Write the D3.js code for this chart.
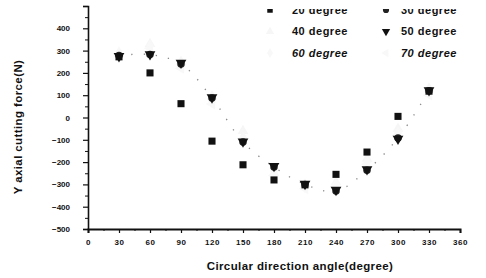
<!DOCTYPE html>
<html>
<head>
<meta charset="utf-8">
<script src="https://cdn.jsdelivr.net/npm/d3@7"></script>
<style>
  body { margin: 0; background: #fff; }
  text { font-family: "Liberation Sans", Arial, sans-serif; font-weight: bold; fill: #111; }
</style>
</head>
<body>
<script>
var angles = [30, 60, 90, 120, 150, 180, 210, 240, 270, 300, 330];
var deg20 = [272, 200, 62, -106, -212, -280, -302, -255, -155, 5, 118];
var deg30 = [278, 282, 240, 88, -110, -222, -300, -330, -236, -92, 120];
var deg40 = [285, 330, 250, 95, -60, -250, -300, -290, -185, -50, 130];
var deg50 = [275, 283, 245, 90, -108, -218, -298, -325, -232, -96, 122];
var deg60 = [290, 320, 230, 70, -90, -240, -310, -300, -200, -70, 110];
var deg70 = [280, 310, 220, 60, -100, -260, -320, -310, -210, -80, 100];
var xTicks = [0, 30, 60, 90, 120, 150, 180, 210, 240, 270, 300, 330, 360];
var yTicks = [500, 400, 300, 200, 100, 0, -100, -200, -300, -400, -500];

var series = [
  { name: "20 degree", values: deg20, symbol: d3.symbolSquare, color: "#111", italic: false },
  { name: "30 degree", values: deg30, symbol: d3.symbolCircle, color: "#222", italic: false },
  { name: "40 degree", values: deg40, symbol: d3.symbolTriangle, color: "#f6f6f6", italic: false },
  { name: "50 degree", values: deg50, symbol: d3.symbolTriangle, color: "#111", italic: false, flip: true },
  { name: "60 degree", values: deg60, symbol: d3.symbolDiamond, color: "#f8f8f8", italic: true },
  { name: "70 degree", values: deg70, symbol: d3.symbolTriangle, color: "#f8f8f8", italic: true, left: true }
];

var svg = d3.select("body").append("svg")
  .attr("width", 486)
  .attr("height", 278);

svg.append("defs").append("clipPath").attr("id", "cut")
  .append("rect").attr("x", -200).attr("y", 9).attr("width", 900).attr("height", 300);

var x = d3.scaleLinear().domain([0, 360]).range([88, 460]);
var y = d3.scaleLinear().domain([-500, 500]).range([229, 6]);

// y axis: line and ticks
var yAxis = svg.append("g")
  .attr("transform", "translate(88,0)")
  .call(d3.axisLeft(y).tickValues(yTicks).tickSize(5).tickFormat(""));
yAxis.select(".domain").attr("stroke", "#111").attr("stroke-width", 1.6);
yAxis.selectAll(".tick line").attr("stroke", "#111").attr("stroke-width", 1.2);
svg.append("g")
  .attr("transform", "translate(88,0)")
  .call(d3.axisLeft(y).tickValues(d3.range(-450, 500, 100)).tickSize(3).tickFormat(""))
  .call(function(g) { g.select(".domain").remove(); })
  .selectAll("line").attr("stroke", "#111");
// y axis: labels (top one cut like the scan)
var yLabels = svg.append("g")
  .attr("clip-path", "url(#cut)")
  .append("g")
  .attr("transform", "translate(88,0)")
  .call(d3.axisLeft(y).tickValues(yTicks).tickSize(5).tickPadding(13));
yLabels.select(".domain").remove();
yLabels.selectAll(".tick line").remove();
yLabels.selectAll("text").style("font-size", "8px").style("font-family", "Liberation Sans, Arial").style("font-weight", "bold");

// x axis
var xAxis = svg.append("g")
  .attr("transform", "translate(0,229)")
  .call(d3.axisBottom(x).tickValues(xTicks).tickSize(4).tickPadding(6));
xAxis.select(".domain").attr("stroke", "#111").attr("stroke-width", 2);
xAxis.selectAll(".tick line").attr("stroke", "#111").attr("stroke-width", 1.2);
xAxis.selectAll("text").style("font-size", "8px").style("font-family", "Liberation Sans, Arial").style("font-weight", "bold").style("letter-spacing", "0.6px");
svg.append("g")
  .attr("transform", "translate(0,229)")
  .call(d3.axisBottom(x).tickValues(d3.range(15, 360, 30)).tickSize(2).tickFormat(""))
  .call(function(g) { g.select(".domain").remove(); })
  .selectAll("line").attr("stroke", "#111");

// axis titles
svg.append("text")
  .attr("x", 300).attr("y", 270)
  .attr("text-anchor", "middle")
  .style("font-size", "11.5px").style("letter-spacing", "0.4px")
  .text("Circular direction angle(degree)");
svg.append("text")
  .attr("transform", "translate(22,127) rotate(-90)")
  .attr("text-anchor", "middle")
  .style("font-size", "11.5px").style("letter-spacing", "0.4px")
  .text("Y axial cutting force(N)");

// dotted trend for 30 degree
var line = d3.line()
  .x(function(d, i) { return x(angles[i]); })
  .y(function(d) { return y(d); })
  .curve(d3.curveCatmullRom);
svg.append("path")
  .datum(deg30)
  .attr("d", line)
  .attr("fill", "none")
  .attr("stroke", "#888")
  .attr("stroke-width", 1.3)
  .attr("stroke-dasharray", "1.3,11");

function symbolTransform(s, px, py) {
  var t = "translate(" + px + "," + py + ")";
  if (s.flip) t += " rotate(180)";
  if (s.left) t += " rotate(-90)";
  return t;
}

// points, light ones first
var order = [2, 4, 5, 1, 3, 0];
order.forEach(function(k) {
  var s = series[k];
  svg.append("g").selectAll("path")
    .data(s.values)
    .enter()
    .append("path")
    .attr("d", d3.symbol().type(s.symbol).size(s.symbol === d3.symbolCircle ? 44 : 50))
    .attr("transform", function(d, i) { return symbolTransform(s, x(angles[i]), y(d)); })
    .attr("fill", s.color);
});

// legend
var legend = svg.append("g").attr("clip-path", "url(#cut)");
series.forEach(function(s, i) {
  var col = i % 2, row = Math.floor(i / 2);
  var lx = col === 0 ? 270 : 386;
  var ly = 10 + row * 21.5;
  legend.append("path")
    .attr("d", d3.symbol().type(s.symbol).size(30))
    .attr("transform", symbolTransform(s, lx, ly))
    .attr("fill", s.color);
  legend.append("text")
    .attr("x", lx + (col === 0 ? 22 : 15))
    .attr("y", ly)
    .attr("dy", "0.35em")
    .style("font-size", "11px")
    .style("letter-spacing", "0.5px")
    .style("font-style", s.italic ? "italic" : "normal")
    .text(s.name);
});
</script>
</body>
</html>
